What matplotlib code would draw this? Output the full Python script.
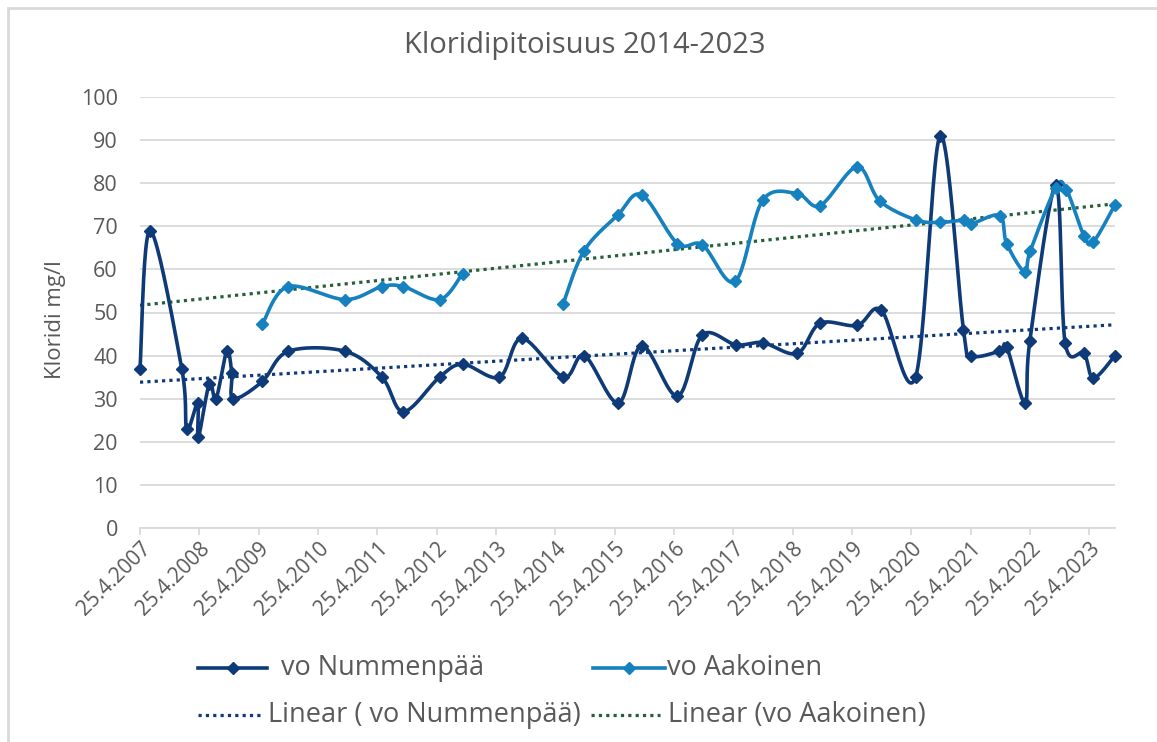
import numpy as np
import matplotlib
matplotlib.use("Agg")
import matplotlib.pyplot as plt
import matplotlib.dates as mdates
from matplotlib.lines import Line2D
from matplotlib.patches import Rectangle
from matplotlib.ticker import FuncFormatter
from datetime import datetime

# --- data ---
numm_dates = ["2007-04-25", "2007-06-26", "2008-01-07", "2008-02-07", "2008-04-14", "2008-04-18",
              "2008-06-25", "2008-08-05", "2008-10-10", "2008-11-10", "2008-11-20", "2009-05-17",
              "2009-10-24", "2010-10-10", "2011-05-24", "2011-10-03", "2012-05-12", "2012-10-03",
              "2013-05-16", "2013-10-01", "2014-06-14", "2014-10-21", "2015-05-18", "2015-10-09",
              "2016-05-16", "2016-10-16", "2017-05-12", "2017-10-23", "2018-05-23", "2018-10-11",
              "2019-05-27", "2019-10-24", "2020-05-21", "2020-10-20", "2021-03-12", "2021-04-28",
              "2021-10-19", "2021-12-03", "2022-03-26", "2022-04-25", "2022-10-02", "2022-11-28",
              "2023-03-24", "2023-05-21", "2023-10-01"]
numm_vals = [37, 69, 37, 23, 29, 21, 33.5, 30, 41, 36, 30, 34, 41, 41, 35, 27, 35, 38, 35, 44,
             35, 40, 29, 42.3, 30.6, 44.8, 42.5, 43, 40.5, 47.5, 47, 50.5, 35, 91, 46, 40, 41, 42,
             29, 43.5, 79.5, 43, 40.5, 34.8, 40]

aak_dates = ["2009-05-17", "2009-10-21", "2010-10-10", "2011-05-22", "2011-10-03", "2012-05-13",
             "2012-10-01", "2013-05-16", "2014-06-12", "2014-10-19", "2015-05-14", "2015-10-09",
             "2016-05-16", "2016-10-17", "2017-05-06", "2017-10-22", "2018-05-22", "2018-10-11",
             "2019-05-27", "2019-10-13", "2020-05-21", "2020-10-18", "2021-03-15", "2021-04-30",
             "2021-10-21", "2021-12-03", "2022-03-24", "2022-04-27", "2022-10-02", "2022-12-06",
             "2023-03-24", "2023-05-19", "2023-10-01"]
aak_vals = [47.3, 56, 53, 56, 56, 53, 59, None, 52, 64.3, 72.6, 77.3, 66, 65.7, 57.2, 76, 77.6,
            74.8, 83.8, 75.9, 71.5, 70.9, 71.4, 70.6, 72.5, 66, 59.4, 64.2, 79, 78.5, 67.8, 66.3, 75]

numm_label = " vo Nummenpää"
aak_label = "vo Aakoinen"
trend_labels = ["Linear ( vo Nummenpää)", "Linear (vo Aakoinen)"]
title = "Kloridipitoisuus 2014-2023"
ylabel = "Kloridi mg/l"
tick_years = list(range(2007, 2024))

# colours
c_numm = "#0E3A78"
c_aak = "#1581BF"
c_trend_aak = "#256039"
c_text = "#595959"
c_grid = "#D9D9D9"

plt.rcParams["font.family"] = ["Open Sans", "DejaVu Sans"]

W, H = 1157, 742
LW = 2.6


def to_num(dates):
    return mdates.date2num([datetime.strptime(d, "%Y-%m-%d") for d in dates])


def smooth(x, y, n=24):
    """Excel-like smoothed line (Catmull-Rom bezier)"""
    x = np.asarray(x, float)
    y = np.asarray(y, float)
    if len(x) < 3:
        return x, y
    xs, ys = [x[0]], [y[0]]
    t = np.linspace(0, 1, n)[1:]
    for i in range(len(x) - 1):
        a = max(i - 1, 0)
        b = min(i + 2, len(x) - 1)
        c1 = (x[i] + (x[i + 1] - x[a]) / 6, y[i] + (y[i + 1] - y[a]) / 6)
        c2 = (x[i + 1] - (x[b] - x[i]) / 6, y[i + 1] - (y[b] - y[i]) / 6)
        bx = ((1 - t) ** 3 * x[i] + 3 * (1 - t) ** 2 * t * c1[0]
              + 3 * (1 - t) * t ** 2 * c2[0] + t ** 3 * x[i + 1])
        by = ((1 - t) ** 3 * y[i] + 3 * (1 - t) ** 2 * t * c1[1]
              + 3 * (1 - t) * t ** 2 * c2[1] + t ** 3 * y[i + 1])
        xs.extend(bx)
        ys.extend(by)
    return np.array(xs), np.array(ys)


def segments(xn, vals):
    seg_x, seg_y, out = [], [], []
    for xv, v in zip(xn, vals):
        if v is None:
            if seg_x:
                out.append((seg_x, seg_y))
            seg_x, seg_y = [], []
        else:
            seg_x.append(xv)
            seg_y.append(v)
    if seg_x:
        out.append((seg_x, seg_y))
    return out


fig = plt.figure(figsize=(W / 100, H / 100), dpi=100)
ax = fig.add_axes([140 / W, 1 - 528 / H, (1115 - 140) / W, (528 - 97) / H])

# chart area border (only top/left visible in the crop)
fig.patches.append(Rectangle((8 / W, -0.1), 1.2, 1 - 8 / H + 0.1, transform=fig.transFigure,
                             fill=False, edgecolor=c_grid, linewidth=2, clip_on=False))

nx = to_num(numm_dates)
ax_n = to_num(aak_dates)

for sx, sy in segments(nx, numm_vals):
    px, py = smooth(sx, sy)
    ax.plot(px, py, color=c_numm, lw=LW, zorder=4, solid_capstyle="round", clip_on=False)
    ax.plot(sx, sy, ls="none", marker="D", ms=6.5, color=c_numm, zorder=5, clip_on=False)

for sx, sy in segments(ax_n, aak_vals):
    px, py = smooth(sx, sy)
    ax.plot(px, py, color=c_aak, lw=LW, zorder=4, solid_capstyle="round", clip_on=False)
    ax.plot(sx, sy, ls="none", marker="D", ms=6.5, color=c_aak, zorder=5, clip_on=False)

# linear trend lines
xmin = mdates.date2num(datetime(2007, 4, 25))
xmax = max(nx.max(), ax_n.max())
xx = np.array([xmin, xmax])
dots = (0, (1, 1.3))
kn = np.polyfit(nx, numm_vals, 1)
ax.plot(xx, np.polyval(kn, xx), color=c_numm, lw=2.3, ls=dots, zorder=3)
mask = [v is not None for v in aak_vals]
ka = np.polyfit(ax_n[mask], [v for v in aak_vals if v is not None], 1)
ax.plot(xx, np.polyval(ka, xx), color=c_trend_aak, lw=2.3, ls=dots, zorder=3)

# axes styling
ax.set_xlim(xmin, xmax)
ax.set_ylim(0, 100)
ax.set_yticks(np.arange(0, 101, 10))
ax.grid(axis="y", color=c_grid, lw=1.3)
ax.set_axisbelow(True)
for s in ["top", "right", "left"]:
    ax.spines[s].set_visible(False)
ax.spines["bottom"].set_color(c_grid)
ax.spines["bottom"].set_linewidth(1.3)
ax.tick_params(axis="y", length=0, pad=16, labelsize=15.5, labelcolor=c_text)

ticks = mdates.date2num([datetime(y, 4, 25) for y in tick_years])
ax.set_xticks(ticks)
ax.xaxis.set_major_formatter(FuncFormatter(
    lambda v, p: "{0.day}.{0.month}.{0.year}".format(mdates.num2date(v))))
ax.tick_params(axis="x", length=5, width=1.3, color=c_grid, pad=2,
               labelsize=15, labelcolor=c_text)
for lab in ax.get_xticklabels():
    lab.set_rotation(45)
    lab.set_ha("right")
    lab.set_va("top")
    lab.set_rotation_mode("anchor")

fig.text(585 / W, 1 - 46 / H, title, ha="center", va="center", fontsize=21, color=c_text)
fig.text(55 / W, 1 - 320 / H, ylabel, ha="center", va="center", rotation=90,
         fontsize=16, color=c_text)

# legend drawn by hand to follow Excel layout
def leg_line(x0, x1, y, color, ls="-", marker=None):
    yy = 1 - y / H
    fig.add_artist(Line2D([x0 / W, x1 / W], [yy, yy], color=color, lw=LW if ls == "-" else 2.3,
                          ls=ls, transform=fig.transFigure))
    if marker:
        fig.add_artist(Line2D([(x0 + x1) / 2 / W], [yy], color=color, marker="D", ms=6.5,
                              ls="none", transform=fig.transFigure))


def leg_text(x, y, s):
    fig.text(x / W, 1 - y / H, s, ha="left", va="center", fontsize=19.5, color=c_text)


leg_line(198, 267, 668, c_numm, marker=True)
leg_text(274, 668, numm_label)
leg_line(593, 665, 668, c_aak, marker=True)
leg_text(667, 668, aak_label)
leg_line(198, 262, 715, c_numm, ls=dots)
leg_text(268, 715, trend_labels[0])
leg_line(591, 660, 715, c_trend_aak, ls=dots)
leg_text(668, 715, trend_labels[1])

fig.savefig("out.png", dpi=100)
